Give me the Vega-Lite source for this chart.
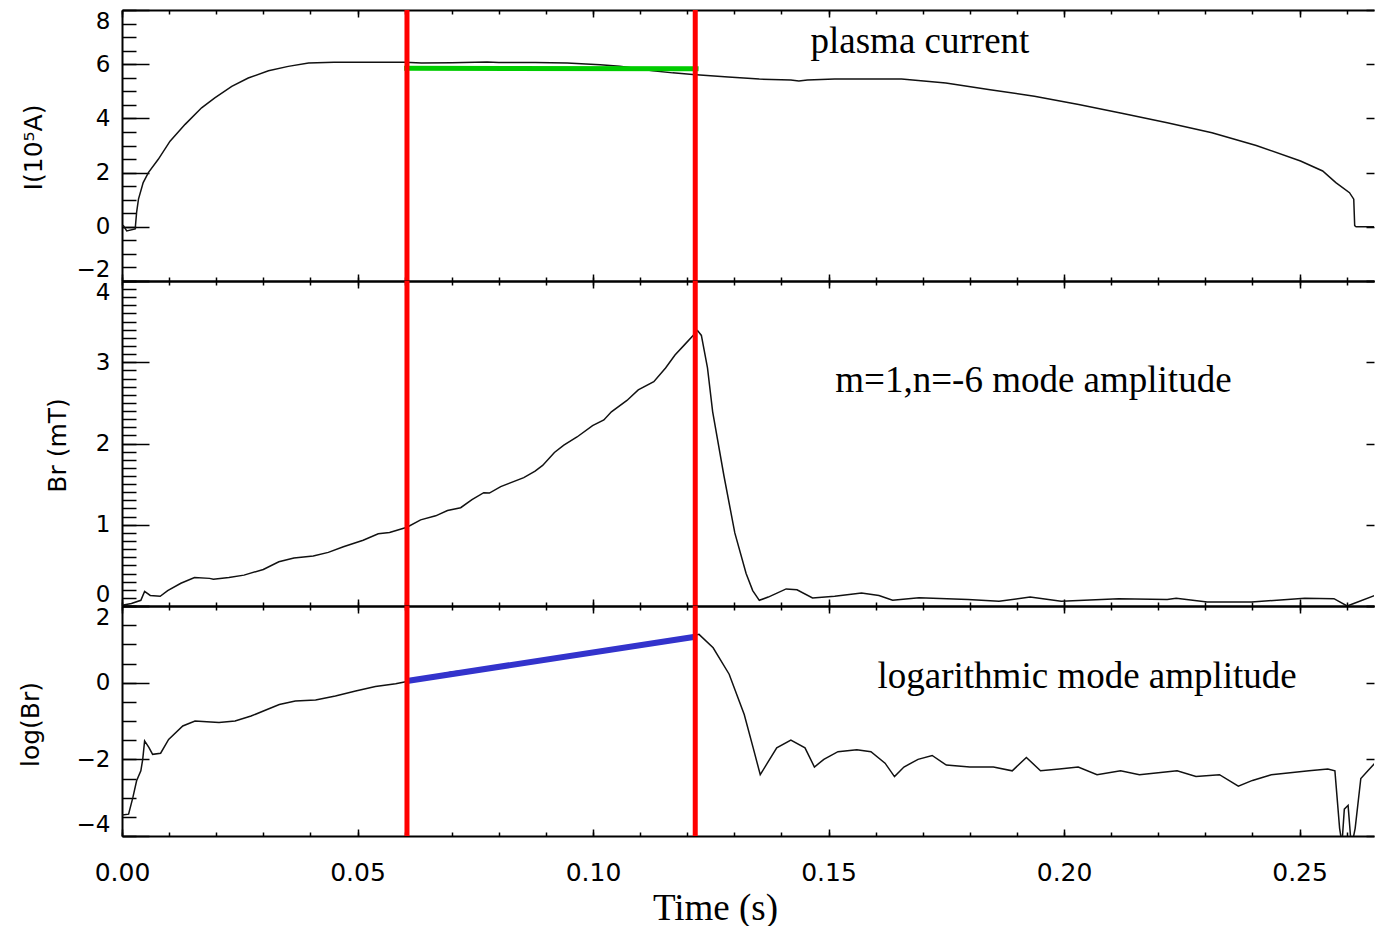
{
"$schema": "https://vega.github.io/schema/vega-lite/v6.json",
"autosize": {"type": "pad"},
"padding": {"left": 17, "top": 7, "right": 0, "bottom": 0},
"background": "white",
"spacing": 0,
"bounds": "flush",
"config": {
  "view": {"stroke": null},
  "axis": {"domainColor": "black", "domainWidth": 2, "tickColor": "black", "tickWidth": 1.5, "labelFont": "DejaVu Sans", "labelFontSize": 23, "labelColor": "black", "titleFont": "DejaVu Sans", "titleFontSize": 25, "titleColor": "black", "titleFontWeight": "normal", "grid": false, "labelOverlap": false}
},
"datasets": {
  "blank": [{}],
  "current": [
    {"t":0,"I":0.02},{"t":0.0003,"I":0.04},{"t":0.001,"I":-0.15},{"t":0.0028,"I":-0.08},{"t":0.0031,"I":0.53},{"t":0.0035,"I":1.02},{"t":0.0045,"I":1.63},{"t":0.0056,"I":2.0},{"t":0.0077,"I":2.49},{"t":0.0102,"I":3.16},{"t":0.0134,"I":3.78},{"t":0.0169,"I":4.39},{"t":0.0197,"I":4.76},{"t":0.0233,"I":5.18},{"t":0.0268,"I":5.49},{"t":0.0311,"I":5.76},{"t":0.0353,"I":5.92},{"t":0.0396,"I":6.04},{"t":0.045,"I":6.07},{"t":0.06,"I":6.07},{"t":0.0636,"I":6.04},{"t":0.07,"I":6.05},{"t":0.0775,"I":6.08},{"t":0.08,"I":6.06},{"t":0.0877,"I":6.06},{"t":0.0945,"I":6.04},{"t":0.1015,"I":5.98},{"t":0.1057,"I":5.92},{"t":0.1127,"I":5.76},{"t":0.1169,"I":5.68},{"t":0.1212,"I":5.62},{"t":0.1287,"I":5.53},{"t":0.1353,"I":5.45},{"t":0.142,"I":5.42},{"t":0.1437,"I":5.38},{"t":0.1455,"I":5.42},{"t":0.1513,"I":5.45},{"t":0.1655,"I":5.45},{"t":0.1749,"I":5.31},{"t":0.1843,"I":5.06},{"t":0.1937,"I":4.82},{"t":0.2031,"I":4.51},{"t":0.2125,"I":4.18},{"t":0.2219,"I":3.84},{"t":0.2314,"I":3.47},{"t":0.2408,"I":3.0},{"t":0.2502,"I":2.43},{"t":0.2549,"I":2.06},{"t":0.2577,"I":1.63},{"t":0.2606,"I":1.26},{"t":0.2615,"I":1.02},{"t":0.2617,"I":0.04},{"t":0.262,"I":0.0},{"t":0.266,"I":0.0}
  ],
  "br": [
    {"t":0,"B":0.01},{"t":0.002,"B":0.03},{"t":0.004,"B":0.07},{"t":0.0048,"B":0.18},{"t":0.006,"B":0.13},{"t":0.0081,"B":0.12},{"t":0.0097,"B":0.19},{"t":0.0125,"B":0.28},{"t":0.0154,"B":0.35},{"t":0.0186,"B":0.34},{"t":0.0194,"B":0.33},{"t":0.0227,"B":0.35},{"t":0.0259,"B":0.38},{"t":0.03,"B":0.45},{"t":0.0333,"B":0.545},{"t":0.0365,"B":0.59},{"t":0.0406,"B":0.615},{"t":0.0438,"B":0.66},{"t":0.047,"B":0.73},{"t":0.0512,"B":0.81},{"t":0.0544,"B":0.89},{"t":0.0568,"B":0.905},{"t":0.0605,"B":0.97},{"t":0.0634,"B":1.06},{"t":0.0666,"B":1.11},{"t":0.0691,"B":1.175},{"t":0.0719,"B":1.21},{"t":0.0743,"B":1.31},{"t":0.0768,"B":1.395},{"t":0.078,"B":1.39},{"t":0.0804,"B":1.47},{"t":0.0853,"B":1.58},{"t":0.0877,"B":1.66},{"t":0.0893,"B":1.73},{"t":0.0918,"B":1.89},{"t":0.0938,"B":1.98},{"t":0.0966,"B":2.08},{"t":0.0999,"B":2.22},{"t":0.1023,"B":2.29},{"t":0.1039,"B":2.39},{"t":0.1072,"B":2.53},{"t":0.1096,"B":2.66},{"t":0.1129,"B":2.76},{"t":0.1154,"B":2.93},{"t":0.1174,"B":3.09},{"t":0.1195,"B":3.22},{"t":0.1211,"B":3.32},{"t":0.1222,"B":3.39},{"t":0.123,"B":3.33},{"t":0.1243,"B":2.93},{"t":0.1254,"B":2.39},{"t":0.1278,"B":1.6},{"t":0.1301,"B":0.9},{"t":0.1325,"B":0.4},{"t":0.1339,"B":0.19},{"t":0.1353,"B":0.07},{"t":0.1372,"B":0.11},{"t":0.141,"B":0.21},{"t":0.1433,"B":0.2},{"t":0.1466,"B":0.1},{"t":0.1513,"B":0.12},{"t":0.157,"B":0.16},{"t":0.1607,"B":0.13},{"t":0.1636,"B":0.07},{"t":0.1692,"B":0.1},{"t":0.1796,"B":0.08},{"t":0.1862,"B":0.06},{"t":0.1928,"B":0.11},{"t":0.1994,"B":0.06},{"t":0.2116,"B":0.09},{"t":0.2219,"B":0.08},{"t":0.2238,"B":0.095},{"t":0.2304,"B":0.05},{"t":0.2398,"B":0.05},{"t":0.2511,"B":0.095},{"t":0.2573,"B":0.09},{"t":0.2601,"B":0.0},{"t":0.2615,"B":0.03},{"t":0.266,"B":0.13}
  ],
  "logbr": [
    {"t":0,"L":-3.45},{"t":0.0014,"L":-3.43},{"t":0.0023,"L":-3.0},{"t":0.0031,"L":-2.56},{"t":0.004,"L":-2.3},{"t":0.0044,"L":-2.0},{"t":0.0048,"L":-1.52},{"t":0.0057,"L":-1.69},{"t":0.0065,"L":-1.87},{"t":0.0082,"L":-1.84},{"t":0.0099,"L":-1.48},{"t":0.0129,"L":-1.13},{"t":0.0155,"L":-1.0},{"t":0.018,"L":-1.02},{"t":0.0206,"L":-1.04},{"t":0.024,"L":-1.0},{"t":0.0274,"L":-0.87},{"t":0.0308,"L":-0.7},{"t":0.0334,"L":-0.57},{"t":0.0368,"L":-0.48},{"t":0.0411,"L":-0.45},{"t":0.0453,"L":-0.35},{"t":0.0496,"L":-0.22},{"t":0.0538,"L":-0.1},{"t":0.0581,"L":-0.03},{"t":0.0605,"L":0.03},{"t":0.07,"L":0.28},{"t":0.08,"L":0.4},{"t":0.09,"L":0.58},{"t":0.1,"L":0.8},{"t":0.11,"L":1.0},{"t":0.1195,"L":1.17},{"t":0.1217,"L":1.24},{"t":0.1225,"L":1.26},{"t":0.1255,"L":0.91},{"t":0.1289,"L":0.22},{"t":0.1321,"L":-0.83},{"t":0.134,"L":-1.7},{"t":0.1355,"L":-2.4},{"t":0.137,"L":-2.1},{"t":0.139,"L":-1.7},{"t":0.142,"L":-1.5},{"t":0.145,"L":-1.7},{"t":0.147,"L":-2.2},{"t":0.149,"L":-2.0},{"t":0.152,"L":-1.8},{"t":0.156,"L":-1.75},{"t":0.159,"L":-1.8},{"t":0.162,"L":-2.1},{"t":0.164,"L":-2.45},{"t":0.166,"L":-2.2},{"t":0.169,"L":-2.0},{"t":0.172,"L":-1.9},{"t":0.175,"L":-2.15},{"t":0.18,"L":-2.2},{"t":0.185,"L":-2.2},{"t":0.189,"L":-2.3},{"t":0.192,"L":-1.95},{"t":0.195,"L":-2.3},{"t":0.199,"L":-2.25},{"t":0.203,"L":-2.2},{"t":0.207,"L":-2.4},{"t":0.212,"L":-2.3},{"t":0.216,"L":-2.4},{"t":0.22,"L":-2.35},{"t":0.224,"L":-2.3},{"t":0.228,"L":-2.45},{"t":0.233,"L":-2.4},{"t":0.237,"L":-2.7},{"t":0.24,"L":-2.55},{"t":0.244,"L":-2.4},{"t":0.248,"L":-2.35},{"t":0.252,"L":-2.3},{"t":0.256,"L":-2.25},{"t":0.2575,"L":-2.3},{"t":0.2585,"L":-3.8},{"t":0.259,"L":-4.2},{"t":0.2595,"L":-3.3},{"t":0.2603,"L":-3.2},{"t":0.261,"L":-4.3},{"t":0.2618,"L":-3.8},{"t":0.263,"L":-2.5},{"t":0.2645,"L":-2.3},{"t":0.266,"L":-2.1}
  ]
},
"vconcat": [
  {
    "width": 1252, "height": 271,
    "resolve": {"scale": {"x": "independent", "y": "independent"}},
    "layer": [
      {
        "data": {"name": "current"},
        "mark": {"type": "line", "color": "#111111", "strokeWidth": 1.5, "clip": true},
        "encoding": {
          "x": {"field": "t", "type": "quantitative", "scale": {"domain": [0, 0.2658], "nice": false, "zero": false},
                "axis": {"orient": "bottom", "values": [0, 0.05, 0.1, 0.15, 0.2, 0.25], "tickSize": -7, "labels": false, "title": null}},
          "y": {"field": "I", "type": "quantitative", "scale": {"domain": [-2, 8], "nice": false, "zero": false},
                "axis": {"orient": "left", "values": [-2, 0, 2, 4, 6, 8], "tickSize": -27, "labelPadding": 39, "labelFlush": true, "title": "I(10⁵A)", "titleX": -89, "titleY": 137, "titleAngle": -90, "titleAlign": "center", "titleBaseline": "middle"}}
        }
      },
      {
        "data": {"name": "blank"},
        "mark": {"type": "rule", "color": "#00cc00", "strokeWidth": 5},
        "encoding": {
          "x": {"datum": 0.0599, "type": "quantitative", "scale": {"domain": [0, 0.2658], "nice": false, "zero": false}, "axis": null},
          "x2": {"datum": 0.1224},
          "y": {"datum": 5.85, "type": "quantitative", "scale": {"domain": [-2, 8], "nice": false, "zero": false}, "axis": null},
          "y2": {"datum": 5.83}
        }
      },
      {
        "data": {"name": "blank"},
        "mark": {"type": "text", "font": "Liberation Serif", "fontSize": 37, "color": "black", "align": "center", "baseline": "alphabetic"},
        "encoding": {
          "x": {"datum": 0.1694, "type": "quantitative", "scale": {"domain": [0, 0.2658], "nice": false, "zero": false},
                "axis": {"orient": "top", "values": [0, 0.05, 0.1, 0.15, 0.2, 0.25], "tickSize": -7, "labels": false, "title": null}},
          "y": {"datum": 6.42, "type": "quantitative", "scale": {"domain": [-2, 8], "nice": false, "zero": false},
                "axis": {"orient": "right", "values": [-2, 0, 2, 4, 6, 8], "tickSize": -8, "labels": false, "domain": false, "title": null}},
          "text": {"value": "plasma current"}
        }
      },
      {
        "data": {"name": "blank"},
        "mark": {"type": "rule", "color": "#ff0000", "strokeWidth": 5},
        "encoding": {
          "x": {"datum": 0.0605, "type": "quantitative", "scale": {"domain": [0, 0.2658], "nice": false, "zero": false},
                "axis": {"orient": "bottom", "values": [0,0.01,0.02,0.03,0.04,0.05,0.06,0.07,0.08,0.09,0.1,0.11,0.12,0.13,0.14,0.15,0.16,0.17,0.18,0.19,0.2,0.21,0.22,0.23,0.24,0.25,0.26], "tickSize": -4, "labels": false, "domain": false, "title": null}},
          "y": {"datum": -2, "type": "quantitative", "scale": {"domain": [-2, 8], "nice": false, "zero": false},
                "axis": {"orient": "left", "values": [-2,-1.5,-1,-0.5,0,0.5,1,1.5,2,2.5,3,3.5,4,4.5,5,5.5,6,6.5,7,7.5,8], "tickSize": -14, "labels": false, "domain": false, "title": null}},
          "y2": {"datum": 8}
        }
      },
      {
        "data": {"name": "blank"},
        "mark": {"type": "rule", "color": "#ff0000", "strokeWidth": 5},
        "encoding": {
          "x": {"datum": 0.1217, "type": "quantitative", "scale": {"domain": [0, 0.2658], "nice": false, "zero": false},
                "axis": {"orient": "top", "values": [0,0.01,0.02,0.03,0.04,0.05,0.06,0.07,0.08,0.09,0.1,0.11,0.12,0.13,0.14,0.15,0.16,0.17,0.18,0.19,0.2,0.21,0.22,0.23,0.24,0.25,0.26], "tickSize": -4, "labels": false, "domain": false, "title": null}},
          "y": {"datum": -2, "type": "quantitative", "scale": {"domain": [-2, 8], "nice": false, "zero": false}, "axis": null},
          "y2": {"datum": 8}
        }
      }
    ]
  },
  {
    "width": 1252, "height": 325,
    "resolve": {"scale": {"x": "independent", "y": "independent"}},
    "layer": [
      {
        "data": {"name": "br"},
        "mark": {"type": "line", "color": "#111111", "strokeWidth": 1.5, "clip": true},
        "encoding": {
          "x": {"field": "t", "type": "quantitative", "scale": {"domain": [0, 0.2658], "nice": false, "zero": false},
                "axis": {"orient": "bottom", "values": [0, 0.05, 0.1, 0.15, 0.2, 0.25], "tickSize": -7, "labels": false, "title": null}},
          "y": {"field": "B", "type": "quantitative", "scale": {"domain": [0, 4], "nice": false, "zero": false},
                "axis": {"orient": "left", "values": [0, 1, 2, 3, 4], "tickSize": -27, "labelPadding": 39, "labelFlush": true, "title": "Br (mT)", "titleX": -65, "titleY": 164, "titleAngle": -90, "titleAlign": "center", "titleBaseline": "middle"}}
        }
      },
      {
        "data": {"name": "blank"},
        "mark": {"type": "text", "font": "Liberation Serif", "fontSize": 37, "color": "black", "align": "center", "baseline": "alphabetic"},
        "encoding": {
          "x": {"datum": 0.1935, "type": "quantitative", "scale": {"domain": [0, 0.2658], "nice": false, "zero": false},
                "axis": {"orient": "top", "values": [0, 0.05, 0.1, 0.15, 0.2, 0.25], "tickSize": -7, "labels": false, "title": null}},
          "y": {"datum": 2.63, "type": "quantitative", "scale": {"domain": [0, 4], "nice": false, "zero": false},
                "axis": {"orient": "right", "values": [0, 1, 2, 3, 4], "tickSize": -8, "labels": false, "domain": false, "title": null}},
          "text": {"value": "m=1,n=-6 mode amplitude"}
        }
      },
      {
        "data": {"name": "blank"},
        "mark": {"type": "rule", "color": "#ff0000", "strokeWidth": 5},
        "encoding": {
          "x": {"datum": 0.0605, "type": "quantitative", "scale": {"domain": [0, 0.2658], "nice": false, "zero": false},
                "axis": {"orient": "bottom", "values": [0,0.01,0.02,0.03,0.04,0.05,0.06,0.07,0.08,0.09,0.1,0.11,0.12,0.13,0.14,0.15,0.16,0.17,0.18,0.19,0.2,0.21,0.22,0.23,0.24,0.25,0.26], "tickSize": -4, "labels": false, "domain": false, "title": null}},
          "y": {"datum": 0, "type": "quantitative", "scale": {"domain": [0, 4], "nice": false, "zero": false},
                "axis": {"orient": "left", "values": [0,0.1,0.2,0.3,0.4,0.5,0.6,0.7,0.8,0.9,1,1.1,1.2,1.3,1.4,1.5,1.6,1.7,1.8,1.9,2,2.1,2.2,2.3,2.4,2.5,2.6,2.7,2.8,2.9,3,3.1,3.2,3.3,3.4,3.5,3.6,3.7,3.8,3.9,4], "tickSize": -14, "labels": false, "domain": false, "title": null}},
          "y2": {"datum": 4}
        }
      },
      {
        "data": {"name": "blank"},
        "mark": {"type": "rule", "color": "#ff0000", "strokeWidth": 5},
        "encoding": {
          "x": {"datum": 0.1217, "type": "quantitative", "scale": {"domain": [0, 0.2658], "nice": false, "zero": false},
                "axis": {"orient": "top", "values": [0,0.01,0.02,0.03,0.04,0.05,0.06,0.07,0.08,0.09,0.1,0.11,0.12,0.13,0.14,0.15,0.16,0.17,0.18,0.19,0.2,0.21,0.22,0.23,0.24,0.25,0.26], "tickSize": -4, "labels": false, "domain": false, "title": null}},
          "y": {"datum": 0, "type": "quantitative", "scale": {"domain": [0, 4], "nice": false, "zero": false}, "axis": null},
          "y2": {"datum": 4}
        }
      }
    ]
  },
  {
    "width": 1252, "height": 230,
    "resolve": {"scale": {"x": "independent", "y": "independent"}},
    "layer": [
      {
        "data": {"name": "logbr"},
        "mark": {"type": "line", "color": "#111111", "strokeWidth": 1.5, "clip": true},
        "encoding": {
          "x": {"field": "t", "type": "quantitative", "scale": {"domain": [0, 0.2658], "nice": false, "zero": false},
                "axis": {"orient": "bottom", "values": [0, 0.05, 0.1, 0.15, 0.2, 0.25], "format": ".2f", "tickSize": -7, "labels": true, "labelFlush": false, "labelFontSize": 25, "labelPadding": 31, "title": "Time (s)", "titleFont": "Liberation Serif", "titleFontSize": 37, "titleX": 593, "titleY": 83, "titleAlign": "center", "titleBaseline": "alphabetic", "titleAngle": 0}},
          "y": {"field": "L", "type": "quantitative", "scale": {"domain": [-4, 2], "nice": false, "zero": false},
                "axis": {"orient": "left", "values": [-4, -2, 0, 2], "tickSize": -27, "labelPadding": 39, "labelFlush": true, "title": "log(Br)", "titleX": -92, "titleY": 118, "titleAngle": -90, "titleAlign": "center", "titleBaseline": "middle"}}
        }
      },
      {
        "data": {"name": "blank"},
        "mark": {"type": "rule", "color": "#3333cc", "strokeWidth": 6},
        "encoding": {
          "x": {"datum": 0.0605, "type": "quantitative", "scale": {"domain": [0, 0.2658], "nice": false, "zero": false}, "axis": null},
          "x2": {"datum": 0.1217},
          "y": {"datum": 0.044, "type": "quantitative", "scale": {"domain": [-4, 2], "nice": false, "zero": false}, "axis": null},
          "y2": {"datum": 1.2}
        }
      },
      {
        "data": {"name": "blank"},
        "mark": {"type": "text", "font": "Liberation Serif", "fontSize": 37, "color": "black", "align": "center", "baseline": "alphabetic"},
        "encoding": {
          "x": {"datum": 0.2049, "type": "quantitative", "scale": {"domain": [0, 0.2658], "nice": false, "zero": false},
                "axis": {"orient": "top", "values": [0, 0.05, 0.1, 0.15, 0.2, 0.25], "tickSize": -7, "labels": false, "title": null}},
          "y": {"datum": -0.13, "type": "quantitative", "scale": {"domain": [-4, 2], "nice": false, "zero": false},
                "axis": {"orient": "right", "values": [-4, -2, 0, 2], "tickSize": -8, "labels": false, "domain": false, "title": null}},
          "text": {"value": "logarithmic mode amplitude"}
        }
      },
      {
        "data": {"name": "blank"},
        "mark": {"type": "rule", "color": "#ff0000", "strokeWidth": 5},
        "encoding": {
          "x": {"datum": 0.0605, "type": "quantitative", "scale": {"domain": [0, 0.2658], "nice": false, "zero": false},
                "axis": {"orient": "bottom", "values": [0,0.01,0.02,0.03,0.04,0.05,0.06,0.07,0.08,0.09,0.1,0.11,0.12,0.13,0.14,0.15,0.16,0.17,0.18,0.19,0.2,0.21,0.22,0.23,0.24,0.25,0.26], "tickSize": -4, "labels": false, "domain": false, "title": null}},
          "y": {"datum": -4, "type": "quantitative", "scale": {"domain": [-4, 2], "nice": false, "zero": false},
                "axis": {"orient": "left", "values": [-4,-3.5,-3,-2.5,-2,-1.5,-1,-0.5,0,0.5,1,1.5,2], "tickSize": -14, "labels": false, "domain": false, "title": null}},
          "y2": {"datum": 2}
        }
      },
      {
        "data": {"name": "blank"},
        "mark": {"type": "rule", "color": "#ff0000", "strokeWidth": 5},
        "encoding": {
          "x": {"datum": 0.1217, "type": "quantitative", "scale": {"domain": [0, 0.2658], "nice": false, "zero": false},
                "axis": {"orient": "top", "values": [0,0.01,0.02,0.03,0.04,0.05,0.06,0.07,0.08,0.09,0.1,0.11,0.12,0.13,0.14,0.15,0.16,0.17,0.18,0.19,0.2,0.21,0.22,0.23,0.24,0.25,0.26], "tickSize": -4, "labels": false, "domain": false, "title": null}},
          "y": {"datum": -4, "type": "quantitative", "scale": {"domain": [-4, 2], "nice": false, "zero": false}, "axis": null},
          "y2": {"datum": 2}
        }
      }
    ]
  }
]
}
